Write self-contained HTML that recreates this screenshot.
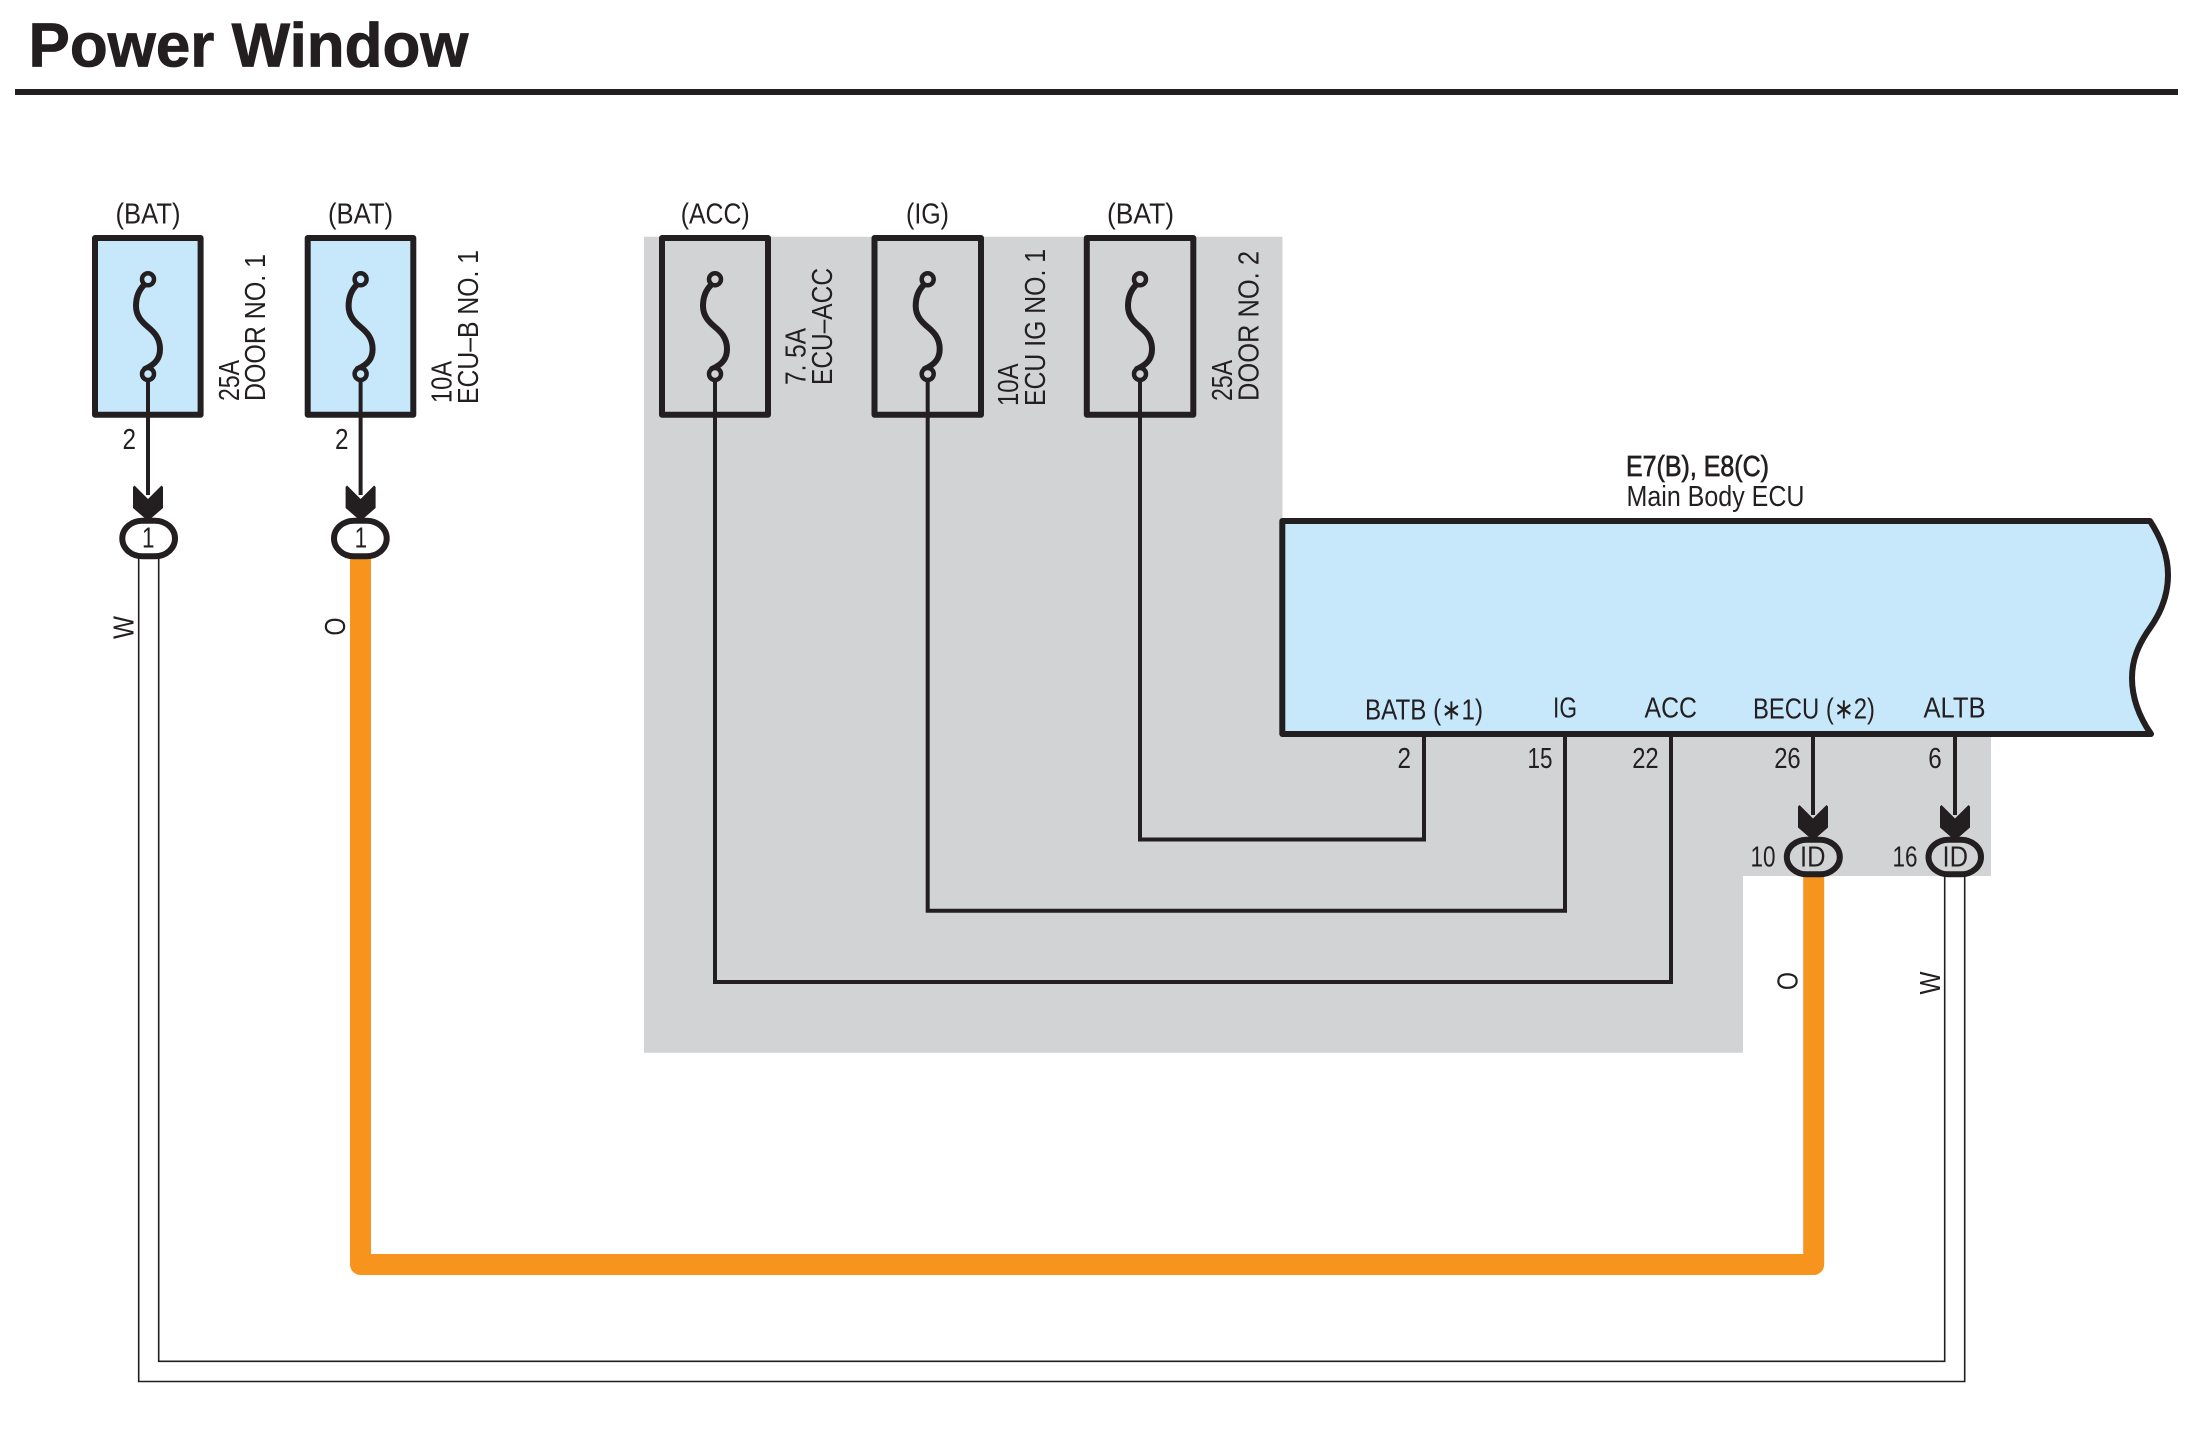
<!DOCTYPE html>
<html lang="en">
<head>
<meta charset="utf-8">
<title>Power Window</title>
<style>
html,body{margin:0;padding:0;background:#fff;}
svg{display:block;}
text{font-family:"Liberation Sans",Arial,"DejaVu Sans",sans-serif;font-size:29px;fill:#231f20;}
</style>
</head>
<body>
<svg xmlns="http://www.w3.org/2000/svg" width="2202" height="1440" viewBox="0 0 2202 1440">
<defs>
  <path id="fc" d="M-4,285 C-8,289 -12,296 -12,306 C-12,316 -6,322 0,327 C6,332 12,338 12,349 C12,358 8,364 -3,369" fill="none" stroke="#231f20" stroke-width="6" stroke-linecap="round"/>
  <path id="ah" d="M-15,487 L-13.500,485.500 L0,499 L13.500,485.500 L15,487 L15,508 L0,521 L-15,508 Z" fill="#231f20"/>
</defs>

<rect width="2202" height="1440" fill="#fff"/>

<!-- grey area -->
<polygon points="644,236.700 1282.500,236.700 1282.500,736 1991,736 1991,876 1743,876 1743,1052.700 644,1052.700" fill="#d1d3d4"/>

<!-- title -->
<text x="28.500" y="66.500" style="font-size:62px;font-weight:bold;stroke:#231f20;stroke-width:0.800" textLength="440" lengthAdjust="spacingAndGlyphs">Power Window</text>
<rect x="15" y="89" width="2163" height="6" fill="#231f20"/>

<!-- wires: thin white pair -->
<path d="M158.700,558 V1361.300 H1944.700 V876" fill="none" stroke="#231f20" stroke-width="1.600"/>
<path d="M138.700,558 V1381.500 H1964.700 V876" fill="none" stroke="#231f20" stroke-width="1.600"/>

<!-- orange wire -->
<path d="M360.500,558 V1264.500 H1813.700 V876" fill="none" stroke="#f7941d" stroke-width="21" stroke-linejoin="round"/>

<!-- fuse boxes -->
<g fill="#c7e8fb" stroke="#231f20" stroke-width="6" stroke-linejoin="round">
  <rect x="95" y="238" width="105.600" height="176.800"/>
  <rect x="307.700" y="238" width="105.600" height="176.800"/>
</g>
<g fill="#d1d3d4" stroke="#231f20" stroke-width="6" stroke-linejoin="round">
  <rect x="662" y="238" width="106" height="176.800"/>
  <rect x="874.500" y="238" width="106.500" height="176.800"/>
  <rect x="1086.800" y="238" width="106.500" height="176.800"/>
</g>

<!-- fuse symbols -->
<g transform="translate(148,0)"><use href="#fc"/><circle cx="0" cy="279.300" r="6" fill="#c7e8fb" stroke="#231f20" stroke-width="4.500"/><circle cx="0" cy="374" r="6" fill="#c7e8fb" stroke="#231f20" stroke-width="4.500"/></g>
<g transform="translate(360.600,0)"><use href="#fc"/><circle cx="0" cy="279.300" r="6" fill="#c7e8fb" stroke="#231f20" stroke-width="4.500"/><circle cx="0" cy="374" r="6" fill="#c7e8fb" stroke="#231f20" stroke-width="4.500"/></g>
<g transform="translate(715,0)"><use href="#fc"/><circle cx="0" cy="279.300" r="6" fill="#d1d3d4" stroke="#231f20" stroke-width="4.500"/><circle cx="0" cy="374" r="6" fill="#d1d3d4" stroke="#231f20" stroke-width="4.500"/></g>
<g transform="translate(927.700,0)"><use href="#fc"/><circle cx="0" cy="279.300" r="6" fill="#d1d3d4" stroke="#231f20" stroke-width="4.500"/><circle cx="0" cy="374" r="6" fill="#d1d3d4" stroke="#231f20" stroke-width="4.500"/></g>
<g transform="translate(1140,0)"><use href="#fc"/><circle cx="0" cy="279.300" r="6" fill="#d1d3d4" stroke="#231f20" stroke-width="4.500"/><circle cx="0" cy="374" r="6" fill="#d1d3d4" stroke="#231f20" stroke-width="4.500"/></g>

<!-- black wires -->
<g fill="none" stroke="#231f20" stroke-width="4" stroke-linejoin="miter">
  <path d="M148,380 V495"/>
  <path d="M360.600,380 V495"/>
  <path d="M715,380 V982 H1671 V734"/>
  <path d="M927.700,380 V910.700 H1565 V734"/>
  <path d="M1140,380 V839.500 H1424 V734"/>
  <path d="M1813,734 V815"/>
  <path d="M1955,734 V815"/>
</g>

<!-- ECU body -->
<path d="M1282.300,521 H2150 C2161,538 2168,555 2168,575 C2168,597 2160,614 2150,628 C2138,645 2132,660 2132,678 C2132,700 2140,718 2151,734 H1282.300 Z" fill="#c7e8fb" stroke="#231f20" stroke-width="6" stroke-linejoin="round"/>

<!-- arrowheads -->
<use href="#ah" transform="translate(148,0)"/>
<use href="#ah" transform="translate(360.600,0)"/>
<use href="#ah" transform="translate(1813,319.500)"/>
<use href="#ah" transform="translate(1955,319.500)"/>

<!-- connector pills -->
<g stroke="#231f20" stroke-width="6">
  <rect x="122.300" y="520.700" width="52.700" height="35.600" rx="20" ry="17.800" fill="#fff"/>
  <rect x="334" y="520.700" width="52.700" height="35.600" rx="20" ry="17.800" fill="#fff"/>
  <rect x="1786.800" y="839.700" width="53" height="34.600" rx="20" ry="17.300" fill="#d1d3d4"/>
  <rect x="1928.500" y="839.700" width="52.500" height="34.600" rx="20" ry="17.300" fill="#d1d3d4"/>
</g>

<!-- top labels -->
<text x="115.500" y="223.500" textLength="65" lengthAdjust="spacingAndGlyphs">(BAT)</text>
<text x="328" y="223.500" textLength="65" lengthAdjust="spacingAndGlyphs">(BAT)</text>
<text x="680.700" y="223.500" textLength="69" lengthAdjust="spacingAndGlyphs">(ACC)</text>
<text x="906" y="223.500" textLength="43" lengthAdjust="spacingAndGlyphs">(IG)</text>
<text x="1107" y="223.500" textLength="67" lengthAdjust="spacingAndGlyphs">(BAT)</text>

<!-- rotated fuse labels -->
<text transform="translate(238.800,401) rotate(-90)" textLength="41" lengthAdjust="spacingAndGlyphs">25A</text>
<text transform="translate(265,401) rotate(-90)" textLength="147" lengthAdjust="spacingAndGlyphs">DOOR NO. 1</text>
<text transform="translate(451.500,403) rotate(-90)" textLength="42" lengthAdjust="spacingAndGlyphs">10A</text>
<text transform="translate(478,404) rotate(-90)" textLength="154" lengthAdjust="spacingAndGlyphs">ECU–B NO. 1</text>
<text transform="translate(805.500,385) rotate(-90)" textLength="57" lengthAdjust="spacingAndGlyphs">7. 5A</text>
<text transform="translate(832,385) rotate(-90)" textLength="117" lengthAdjust="spacingAndGlyphs">ECU–ACC</text>
<text transform="translate(1017.800,406) rotate(-90)" textLength="42.500" lengthAdjust="spacingAndGlyphs">10A</text>
<text transform="translate(1045,406) rotate(-90)" textLength="157" lengthAdjust="spacingAndGlyphs">ECU IG NO. 1</text>
<text transform="translate(1232,401) rotate(-90)" textLength="41" lengthAdjust="spacingAndGlyphs">25A</text>
<text transform="translate(1258.500,401) rotate(-90)" textLength="150" lengthAdjust="spacingAndGlyphs">DOOR NO. 2</text>

<!-- ECU labels -->
<text x="1626" y="476" textLength="143" lengthAdjust="spacingAndGlyphs" style="stroke:#231f20;stroke-width:0.700">E7(B), E8(C)</text>
<text x="1626.500" y="506" textLength="178" lengthAdjust="spacingAndGlyphs">Main Body ECU</text>
<text x="1365" y="719.300" textLength="118" lengthAdjust="spacingAndGlyphs">BATB (∗1)</text>
<text x="1553" y="717.300" textLength="24" lengthAdjust="spacingAndGlyphs">IG</text>
<text x="1644.500" y="717.300" textLength="52.500" lengthAdjust="spacingAndGlyphs">ACC</text>
<text x="1753" y="718.300" textLength="122" lengthAdjust="spacingAndGlyphs">BECU (∗2)</text>
<text x="1923.500" y="717.300" textLength="62" lengthAdjust="spacingAndGlyphs">ALTB</text>

<!-- pin numbers -->
<text x="122.500" y="449" textLength="13.500" lengthAdjust="spacingAndGlyphs">2</text>
<text x="335" y="449" textLength="13.500" lengthAdjust="spacingAndGlyphs">2</text>
<text x="1397.500" y="768" textLength="13.500" lengthAdjust="spacingAndGlyphs">2</text>
<text x="1527.500" y="768" textLength="25" lengthAdjust="spacingAndGlyphs">15</text>
<text x="1632.200" y="768" textLength="26.500" lengthAdjust="spacingAndGlyphs">22</text>
<text x="1774.200" y="768" textLength="26.500" lengthAdjust="spacingAndGlyphs">26</text>
<text x="1928.300" y="768" textLength="13.500" lengthAdjust="spacingAndGlyphs">6</text>
<text x="1750.500" y="866.500" textLength="25" lengthAdjust="spacingAndGlyphs">10</text>
<text x="1892.500" y="866.500" textLength="25" lengthAdjust="spacingAndGlyphs">16</text>
<text x="1800" y="866.500" textLength="25.500" lengthAdjust="spacingAndGlyphs">ID</text>
<text x="1942.500" y="866.500" textLength="25.500" lengthAdjust="spacingAndGlyphs">ID</text>
<text x="142" y="547.500" textLength="12.500" lengthAdjust="spacingAndGlyphs">1</text>
<text x="354.600" y="547.500" textLength="12.500" lengthAdjust="spacingAndGlyphs">1</text>

<!-- wire colour labels -->
<text transform="translate(133.300,639) rotate(-90)" textLength="23" lengthAdjust="spacingAndGlyphs">W</text>
<text transform="translate(345,635.500) rotate(-90)" textLength="18" lengthAdjust="spacingAndGlyphs">O</text>
<text transform="translate(1797.300,990) rotate(-90)" textLength="18" lengthAdjust="spacingAndGlyphs">O</text>
<text transform="translate(1940,994.500) rotate(-90)" textLength="23" lengthAdjust="spacingAndGlyphs">W</text>
</svg>
</body>
</html>
